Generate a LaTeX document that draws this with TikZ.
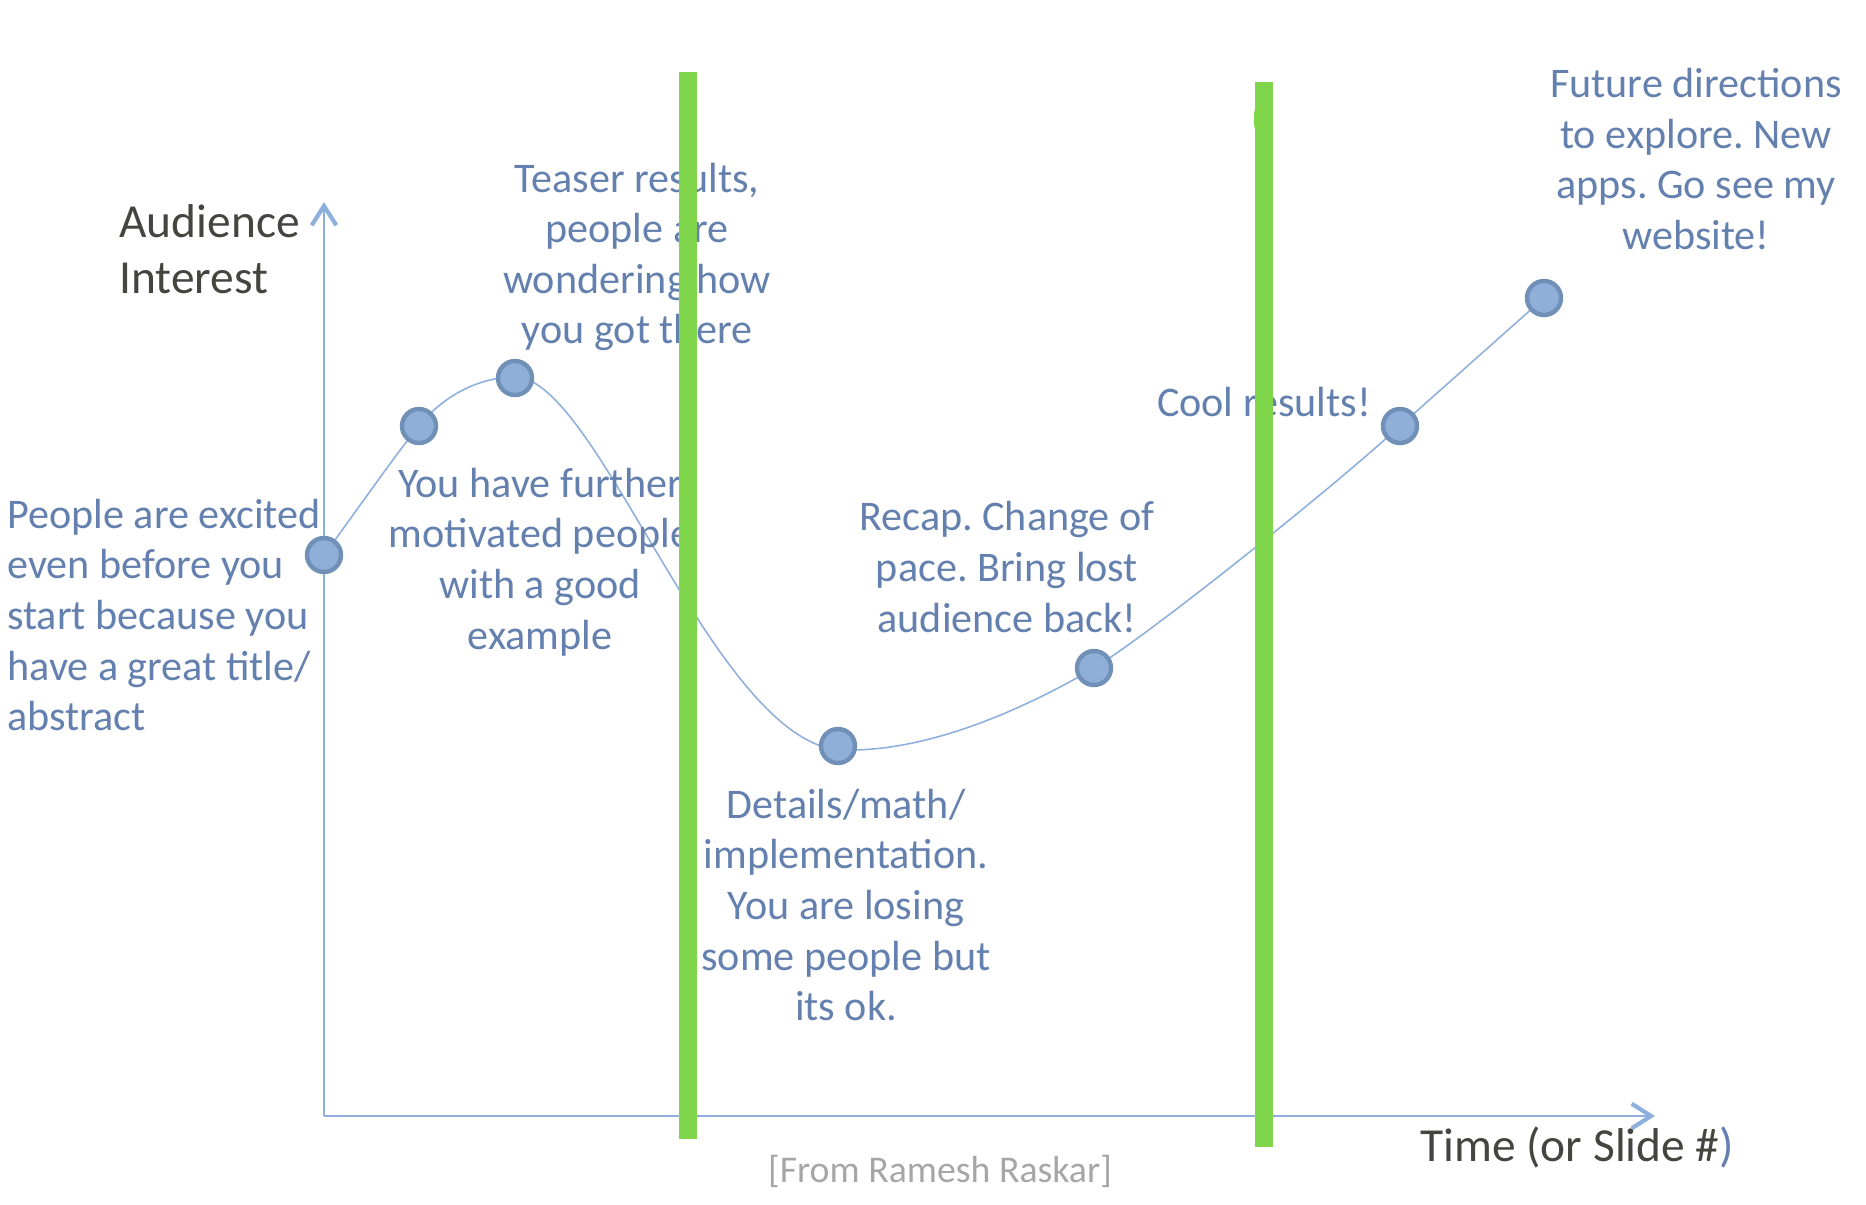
\documentclass[tikz,border=0pt]{standalone}
\usepackage{fontspec}
\setmainfont{Carlito}
\usetikzlibrary{arrows.meta}
\frenchspacing
\definecolor{txtblue}{HTML}{6480AE}
\definecolor{axisblue}{HTML}{8FB0DC}
\definecolor{dotfill}{HTML}{8FAFD8}
\definecolor{dotline}{HTML}{7090B8}
\definecolor{barg}{HTML}{80D64B}
\definecolor{darktxt}{HTML}{45453F}
\definecolor{srcgray}{HTML}{A6A6A6}
\newlength{\unitpx}
\setlength{\unitpx}{0.02cm}
\tikzset{
  note/.style={text=txtblue, align=center, inner sep=0pt, font=\fontsize{24pt}{28.8pt}\selectfont},
  notel/.style={note, align=left},
  axlabel/.style={text=darktxt, inner sep=0pt, font=\fontsize{27pt}{31.9pt}\selectfont},
  dot/.style={circle, fill=dotfill, draw=dotline, line width=2.5pt, minimum size=34\unitpx, inner sep=0pt},
  axis/.style={draw=axisblue, line width=1.2pt, -{Straight Barb[length=11pt,width=14pt,line width=2.4pt]}},
  curve/.style={draw=axisblue, line width=0.9pt},
  greenbar/.style={fill=barg, draw=none}
}
\begin{document}
\begin{tikzpicture}[x=0.02cm, y=-0.02cm]
\useasboundingbox (0,0) rectangle (1866,1204);
% axes
\coordinate (O) at (324,1116);
\coordinate (ytop) at (324,202);
\coordinate (xend) at (1655,1116);
\draw[axis] (O) -- (ytop);
\draw[axis] (O) -- (xend);
% curve
\coordinate (p1) at (324,555);
\coordinate (p2) at (419,426);
\coordinate (p3) at (515,377);
\coordinate (p4) at (850,750);
\coordinate (p5) at (1094,668);
\coordinate (p6) at (1400,426);
\coordinate (p7) at (1544,298);
\draw[curve] (p1) .. controls (350,520) and (395,455) .. (p2)
  .. controls (442,397) and (478,377) .. (p3)
  .. controls (600,377) and (720,760) .. (p4)
  .. controls (940,750) and (1040,700) .. (p5)
  .. controls (1150,634) and (1330,490) .. (p6)
  -- (p7);
% dots
\node[dot] (d1) at (324,555) {};
\node[dot] (d2) at (419,426) {};
\node[dot] (d3) at (515,378) {};
\node[dot] (d4) at (838,746) {};
\node[dot] (d5) at (1094,668) {};
\node[dot] (d6) at (1400,426) {};
\node[dot] (d7) at (1544,298) {};
% labels
\node[axlabel, align=left, anchor=west] (ylab) at (119,249) {Audience\\Interest};
\node[axlabel, anchor=west] (xlab) at (1420,1147) {Time (or Slide \#\textcolor{txtblue}{)}};
\node[text=srcgray, inner sep=0pt, font=\fontsize{21.5pt}{26pt}\selectfont] (src) at (940,1171) {[From Ramesh Raskar]};
% notes
\node[notel, anchor=west] (n1) at (7,615) {People are excited\\even before you\\start because you\\have a great title/\\abstract};
\node[note] (n2) at (637,257) {Teaser results,\\people are\\wondering how\\you got there};
\node[note] (n3) at (540,562) {You have further\\motivated people\\with a good\\example};
\node[note] (n4) at (1007,567) {Recap. Change of\\pace. Bring lost\\audience back!};
\node[note] (n5) at (846,905) {Details/math/\\implementation.\\You are losing\\some people but\\its ok.};
\node[note] (n6) at (1264,402) {Cool results!};
\node[note] (n7) at (1696,159) {Future directions\\to explore. New\\apps. Go see my\\website!};
% green bars
\fill[greenbar] (679,72) rectangle (697,1139);
\fill[greenbar] (1255,82) rectangle (1273,1147);
\fill[greenbar] (1256,106) .. controls (1253,112) and (1253,126) .. (1256,132) -- cycle;
\end{tikzpicture}
\end{document}
